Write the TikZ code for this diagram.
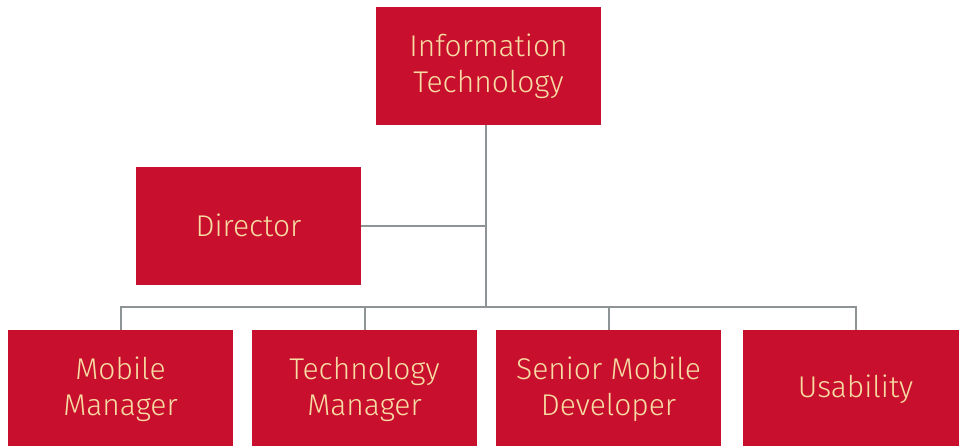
\documentclass[tikz,border=0pt]{standalone}
\usepackage{fontspec}
\setmainfont{Fira Sans Light}
\usepackage{tikz}
\definecolor{boxrot}{HTML}{C8102E}
\definecolor{schrift}{HTML}{F6DBA2}
\definecolor{linie}{HTML}{8E9396}
\tikzset{
	stelle/.style={fill=boxrot,text=schrift,minimum width=225pt,minimum height=118pt,
		inner sep=0pt,align=center,font=\fontsize{30}{36}\selectfont},
	verbindung/.style={draw=linie,line width=2pt}
}

\begin{document}
\begin{tikzpicture}[x=1pt,y=-1pt]
					% Rahmen: 959 x 445
					\useasboundingbox (0,0) rectangle (959,445);
					% Oberste Ebene
					\node[stelle] (it) at (488.5,66) {Information\\Technology};
					\node[stelle] (dir) at (248.5,225.5) {Director};
					% Untere Ebene
					\foreach \name/\x/\txt in {mm/120.5/{Mobile\\Manager},tm/364.5/{Technology\\Manager},smd/608.5/{Senior Mobile\\Developer},us/855.5/{Usability}}
					\node[stelle] (\name) at (\x,389) {\txt};
					% Linien
					\coordinate (bus) at (486,307);
					\draw[verbindung] (it.south -| bus) -- (bus);
					\draw[verbindung] (dir.east) -- (dir.east -| bus);
					\foreach \name in {mm,tm,smd,us}
					\draw[verbindung] (bus) -| (\name.north);
				\end{tikzpicture}
\end{document}
